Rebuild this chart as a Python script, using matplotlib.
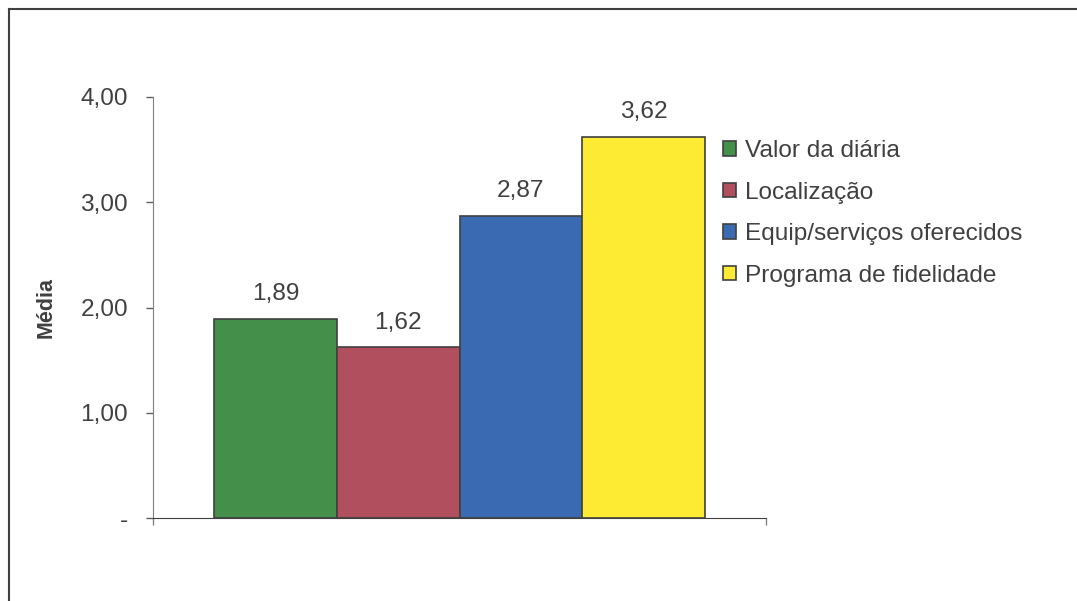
import matplotlib.pyplot as plt
from matplotlib.lines import Line2D

categories = ['Valor da diária', 'Localização', 'Equip/serviços oferecidos', 'Programa de fidelidade']
values = [1.89, 1.62, 2.87, 3.62]
colors = ['#44904A', '#B24F5F', '#3A6AB1', '#FDEB33']
y_ticks = [0, 1, 2, 3, 4]
y_labels = ['-', '1,00', '2,00', '3,00', '4,00']

plt.rcParams['font.family'] = ['Liberation Sans', 'DejaVu Sans']
text_color = '#404040'
fs = 17.6

fig = plt.figure(figsize=(10.77, 6.01), dpi=100)
ax = fig.add_axes([153 / 1077, 83 / 601, 613 / 1077, 421 / 601])

for i, (name, val, col) in enumerate(zip(categories, values, colors)):
    ax.bar(i, val, width=1.0, color=col, edgecolor='#404040', linewidth=1.2, label=name)
    ax.annotate('{:.2f}'.format(val).replace('.', ','), (i, val), xytext=(0, 10),
                textcoords='offset points', ha='center', va='bottom',
                fontsize=fs, color=text_color)

ax.set_xlim(-1.0, 4.0)
ax.set_ylim(0, 4)
ax.set_yticks(y_ticks)
ax.set_yticklabels(y_labels, fontsize=fs, color=text_color)
ax.set_xticks([-1.0, 4.0])
ax.set_xticklabels(['', ''])
ax.tick_params(axis='y', direction='out', length=5, width=1, color='#606060', pad=13)
ax.tick_params(axis='x', direction='out', length=5, width=1, color='#808080')
ax.spines['top'].set_visible(False)
ax.spines['right'].set_visible(False)
ax.spines['left'].set_color('#808080')
ax.spines['bottom'].set_color('#404040')
ax.set_ylabel('Média', fontsize=15.5, fontweight='bold', color=text_color)
ax.yaxis.set_label_coords(-0.157, 0.5)

fig.legend(loc='upper left', bbox_to_anchor=(711 / 1077, 1 - 128 / 601), frameon=False,
           fontsize=fs, handlelength=0.53, handleheight=0.53, handletextpad=0.37,
           labelspacing=0.8, labelcolor=text_color, borderpad=0)

# frame around the figure (only top and left visible)
fig.add_artist(Line2D([9 / 1077, 9 / 1077], [0, 1 - 9 / 601], transform=fig.transFigure,
                      color='#404040', linewidth=1.5))
fig.add_artist(Line2D([9 / 1077, 1], [1 - 9 / 601, 1 - 9 / 601], transform=fig.transFigure,
                      color='#404040', linewidth=1.5))

fig.savefig('out.png', dpi=100)
